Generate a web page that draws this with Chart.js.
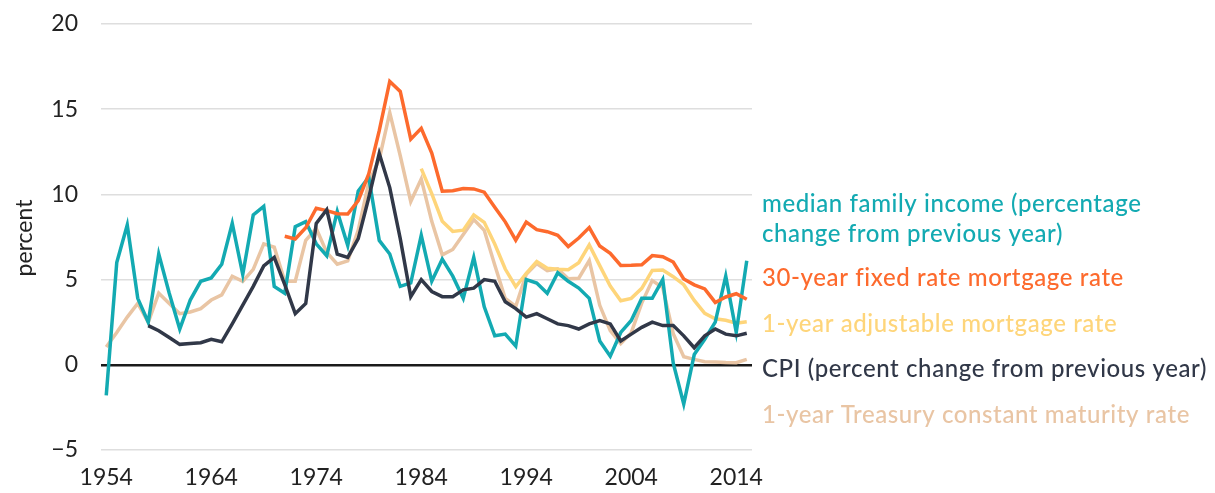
<!DOCTYPE html>
<html>
<head>
<meta charset="utf-8">
<script src="https://cdn.jsdelivr.net/npm/chart.js@4"></script>
<style>
  html, body { margin: 0; padding: 0; background: #fff; }
  #wrap { width: 1215px; height: 493px; }
</style>
</head>
<body>
<div id="wrap"><canvas id="myChart" width="1215" height="493"></canvas></div>
<script>
// years 1954 - 2015
const years = [
    1954, 1955, 1956, 1957, 1958, 1959, 1960, 1961, 1962, 1963,
    1964, 1965, 1966, 1967, 1968, 1969, 1970, 1971, 1972, 1973,
    1974, 1975, 1976, 1977, 1978, 1979, 1980, 1981, 1982, 1983,
    1984, 1985, 1986, 1987, 1988, 1989, 1990, 1991, 1992, 1993,
    1994, 1995, 1996, 1997, 1998, 1999, 2000, 2001, 2002, 2003,
    2004, 2005, 2006, 2007, 2008, 2009, 2010, 2011, 2012, 2013,
    2014, 2015
];
const xTickYears = [1954, 1964, 1974, 1984, 1994, 2004, 2014];
const yTicks = [-5, 0, 5, 10, 15, 20];

// median family income, % change from previous year (from 1954)
const income = [
    -1.8, 6.0, 8.2, 3.9, 2.5, 6.5, 4.2, 2.1, 3.8, 4.9,
    5.1, 5.9, 8.3, 5.3, 8.8, 9.3, 4.6, 4.2, 8.1, 8.4,
    7.1, 6.4, 9.0, 7.0, 10.2, 11.0, 7.3, 6.5, 4.6, 4.8,
    7.6, 4.9, 6.2, 5.2, 3.9, 6.3, 3.4, 1.7, 1.8, 1.1,
    5.0, 4.8, 4.2, 5.4, 4.9, 4.5, 3.9, 1.4, 0.5, 1.9,
    2.6, 3.9, 3.9, 5.0, 0.1, -2.3, 0.6, 1.5, 2.5, 5.2,
    1.9, 6.1
];
// 30-year fixed rate mortgage rate (from 1971)
const fixed30 = [
    7.54, 7.38, 8.04, 9.19, 9.05, 8.87, 8.85, 9.64, 11.20, 13.74,
    16.63, 16.04, 13.24, 13.88, 12.43, 10.19, 10.21, 10.34, 10.32, 10.13,
    9.25, 8.39, 7.31, 8.38, 7.93, 7.81, 7.60, 6.94, 7.44, 8.05,
    6.97, 6.54, 5.83, 5.84, 5.87, 6.41, 6.34, 6.03, 5.04, 4.69,
    4.45, 3.66, 3.98, 4.17, 3.85
];
// 1-year adjustable mortgage rate (from 1984)
const arm1 = [
    11.51, 10.05, 8.43, 7.83, 7.90, 8.80, 8.36, 7.09, 5.62, 4.58,
    5.36, 6.06, 5.67, 5.61, 5.58, 5.99, 7.04, 5.82, 4.62, 3.76,
    3.90, 4.49, 5.54, 5.56, 5.17, 4.70, 3.78, 3.02, 2.70, 2.61,
    2.44, 2.53
];
// CPI, % change from previous year (from 1958)
const cpi = [
    2.3, 2.0, 1.6, 1.2, 1.25, 1.3, 1.5, 1.35, 2.4, 3.5,
    4.6, 5.8, 6.3, 4.7, 3.0, 3.6, 8.3, 9.1, 6.5, 6.3,
    7.4, 9.8, 12.4, 10.4, 7.4, 4.0, 5.0, 4.3, 4.0, 4.0,
    4.4, 4.5, 5.0, 4.9, 3.7, 3.3, 2.8, 3.0, 2.7, 2.4,
    2.3, 2.1, 2.4, 2.6, 2.4, 1.4, 1.8, 2.2, 2.5, 2.3,
    2.3, 1.7, 1.0, 1.7, 2.1, 1.8, 1.7, 1.85
];
// 1-year Treasury constant maturity rate (from 1954)
const treasury1 = [
    1.05, 1.9, 2.8, 3.6, 2.5, 4.2, 3.6, 3.0, 3.1, 3.3,
    3.8, 4.1, 5.2, 4.9, 5.6, 7.1, 6.9, 4.9, 4.9, 7.3,
    8.0, 6.6, 5.9, 6.1, 7.9, 10.7, 12.05, 14.8, 12.27, 9.58,
    10.9, 8.42, 6.45, 6.77, 7.65, 8.53, 7.89, 5.86, 3.89, 3.43,
    5.32, 5.94, 5.52, 5.63, 5.05, 5.08, 6.11, 3.49, 2.00, 1.24,
    1.89, 3.62, 4.94, 4.53, 1.83, 0.47, 0.32, 0.18, 0.17, 0.13,
    0.12, 0.32
];

// put a series that starts later than 1954 on the full year list
function FromYear(startYear, values)
{
    var out = [];
    years.forEach(y => {
        out.push(y < startYear ? null : values[y - startYear]);
    });
    return out;
}

const labelFont = "500 24px Lato";
const notes = [
    { text: "median family income (percentage", color: "#13aab2", y: 204 },
    { text: "change from previous year)", color: "#13aab2", y: 234 },
    { text: "30-year fixed rate mortgage rate", color: "#fd6a2d", y: 278 },
    { text: "1-year adjustable mortgage rate", color: "#fed57a", y: 324 },
    { text: "CPI (percent change from previous year)", color: "#313848", y: 369 },
    { text: "1-year Treasury constant maturity rate", color: "#e9c5a4", y: 415 }
];

const textPlugin = {
    id: 'sideText',
    afterDraw(chart) {
        const ctx = chart.ctx;
        ctx.save();
        ctx.font = labelFont;
        ctx.letterSpacing = '0.6px';
        ctx.textAlign = 'left';
        ctx.textBaseline = 'middle';
        notes.forEach(n => {
            ctx.fillStyle = n.color;
            ctx.fillText(n.text, 762, n.y);
        });
        // y axis title
        ctx.letterSpacing = '0px';
        ctx.translate(25, 238);
        ctx.rotate(-Math.PI / 2);
        ctx.textAlign = 'center';
        ctx.fillStyle = '#222';
        ctx.font = "23px Lato";
        ctx.fillText("percent", 0, 0);
        ctx.restore();
    }
};

function line(label, data, color, order)
{
    return {
        label: label,
        data: data,
        borderColor: color,
        backgroundColor: color,
        borderWidth: 3.5,
        pointRadius: 0,
        tension: 0,
        spanGaps: false,
        order: order
    };
}

const data =
{
    labels: years,
    datasets:
    [
        line('median family income', income, '#13aab2', 3),
        line('30-year fixed rate mortgage rate', FromYear(1971, fixed30), '#fd6a2d', 2),
        line('1-year adjustable mortgage rate', FromYear(1984, arm1), '#fed57a', 4),
        line('CPI', FromYear(1958, cpi), '#313848', 1),
        line('1-year Treasury constant maturity rate', treasury1, '#e9c5a4', 5)
    ]
};

const config =
{
    type: 'line',
    data: data,
    plugins: [textPlugin],
    options: {
        responsive: false,
        animation: false,
        devicePixelRatio: 1,
        layout: { padding: { top: 24, right: 463, left: 0, bottom: 0 } },
        plugins: {
            legend: { display: false },
            tooltip: { enabled: false }
        },
        scales:
        {
            x:
            {
                type: 'category',
                offset: true,
                grid: { display: false },
                border: { display: false },
                afterFit(scale) { scale.height = 43; },
                ticks: {
                    autoSkip: false,
                    maxRotation: 0,
                    padding: 6,
                    color: '#222',
                    font: { family: 'Lato', size: 23 },
                    callback: function (value, index) {
                        var y = years[index];
                        return xTickYears.indexOf(y) >= 0 ? String(y) : '';
                    }
                }
            },
            y:
            {
                min: yTicks[0],
                max: yTicks[yTicks.length - 1],
                afterFit(scale) {
                    scale.width = 101;
                    // tick padding should not push the plot area down
                    scale.paddingTop = 0;
                    scale.paddingBottom = 0;
                },
                afterBuildTicks(scale) {
                    scale.ticks = yTicks.map(v => ({ value: v }));
                },
                border: { display: false },
                grid: {
                    drawTicks: false,
                    color: c => c.tick && c.tick.value === 0 ? '#1a1a1a' : '#dedede',
                    lineWidth: c => c.tick && c.tick.value === 0 ? 2.5 : 1.5
                },
                ticks: {
                    padding: 23,
                    color: '#222',
                    font: { family: 'Lato', size: 23 },
                    callback: v => v < 0 ? '\u2212' + Math.abs(v) : String(v)
                }
            }
        }
    }
};

var myChart = new Chart(document.getElementById('myChart'), config);
</script>
</body>
</html>
